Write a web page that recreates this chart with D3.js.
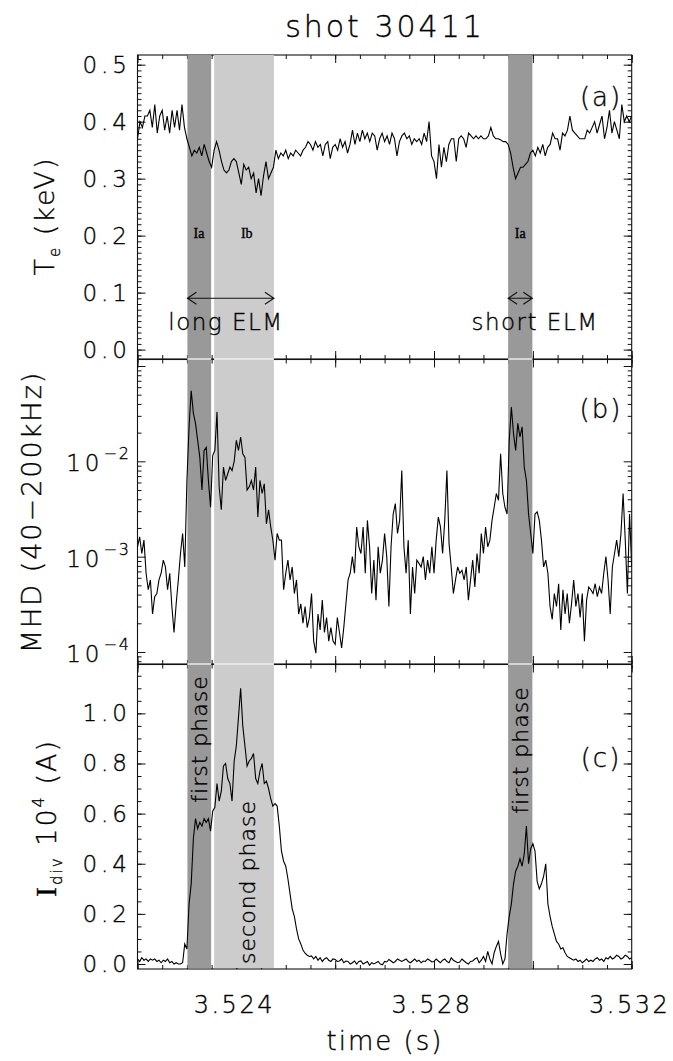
<!DOCTYPE html>
<html><head><meta charset="utf-8">
<script src="https://cdn.jsdelivr.net/npm/d3@7"></script>
<style>
body{margin:0;background:#fff}
svg{display:block}
text{font-family:'DejaVu Sans',sans-serif;font-weight:200;fill:#000;stroke:#000;stroke-width:0.35px}
</style>
</head><body><svg id="chart" width="673" height="1061"></svg>
<script>
// ---------------- data ----------------
const timeRange = [3.522, 3.532];
const xTickLabels = [3.524, 3.528, 3.532];
const teTicks = [0.0, 0.1, 0.2, 0.3, 0.4, 0.5];
const mhdTicks = [1e-4, 1e-3, 1e-2];
const idivTicks = [0.0, 0.2, 0.4, 0.6, 0.8, 1.0];
const darkBands = [[3.52301, 3.52349], [3.52950, 3.52999]];
const lightBands = [[3.52355, 3.52476]];
const bandLabels = ["Ia", "Ib", "Ia"];
const bandLabelTimes = [3.523245, 3.52421, 3.529745];

// Te (keV), sampled uniformly over the time range
const teValues = [
0.37,0.40,0.39,0.41,0.41,0.42,0.39,0.43,0.38,0.41,0.42,0.385,0.41,0.38,0.42,0.39,0.42,0.385,0.43,0.39,0.37,
0.355,0.34,0.35,0.345,0.355,0.34,0.36,0.345,0.33,0.32,
0.35,0.365,0.35,0.33,0.315,0.31,0.315,0.33,0.335,0.33,0.31,0.29,0.325,0.315,0.32,0.30,0.31,0.275,0.30,0.27,0.305,0.33,0.30,0.31,0.32,0.35,
0.335,0.345,0.34,0.35,0.335,0.345,0.34,0.35,0.345,0.34,0.35,0.355,0.365,0.36,0.35,0.365,0.355,0.36,0.34,0.36,0.365,0.335,0.355,0.36,0.35,0.37,0.355,0.365,0.345,0.36,0.385,0.36,0.38,0.365,0.385,0.37,0.38,0.365,0.38,0.375,0.35,0.37,0.38,0.365,
0.375,0.36,0.38,0.37,0.34,0.365,0.375,0.38,0.37,0.375,0.36,0.37,0.365,0.37,0.36,0.38,0.365,0.40,0.34,0.33,0.30,0.36,0.32,0.355,0.33,0.36,0.37,0.37,0.33,0.37,0.375,0.37,0.355,0.38,0.375,0.37,0.375,0.37,0.375,0.37,0.37,0.375,0.39,0.375,0.37,0.37,0.368,0.365,0.365,0.36,
0.345,0.32,0.30,0.31,0.32,0.32,0.325,0.33,0.345,0.35,0.34,0.355,0.345,0.36,0.34,0.355,0.36,0.38,0.37,0.37,0.35,0.38,0.375,0.385,0.41,0.385,0.38,0.375,0.37,0.37,0.37,0.385,0.38,0.39,0.40,0.38,0.395,0.41,0.37,0.39,0.42,0.38,0.40,0.385,0.37,0.43,0.40,0.41,0.40,0.41
];

// MHD amplitude (40-200 kHz), sampled uniformly over the time range
const mhdValues = [
1.27e-3,1.61e-3,1.08e-3,1.49e-3,6.7e-4,4.5e-4,5.7e-4,2.5e-4,3.8e-4,4.1e-4,
5.7e-4,6.7e-4,9.2e-4,7.8e-4,4.5e-4,6.7e-4,3.0e-4,1.6e-4,3.2e-4,5.7e-4,
1.08e-3,1.75e-3,7.8e-4,6.3e-3,2.3e-2,5.5e-2,3.2e-2,2.5e-2,1.66e-2,1.1e-2,
5.0e-3,1.3e-2,1.4e-2,6.3e-3,3.3e-3,1.15e-2,1.3e-2,3.3e-2,5.4e-3,3.1e-3,
8.7e-3,6.3e-3,7.4e-3,8.7e-3,8.0e-3,1.0e-2,1.66e-2,1.3e-2,1.8e-2,1.2e-2,
1.1e-2,5.0e-3,5.4e-3,6.3e-3,5.0e-3,8.7e-3,2.6e-3,6.3e-3,4.6e-3,5.8e-3,
2.2e-3,3.1e-3,2.05e-3,1.49e-3,9.2e-4,1.75e-3,1.49e-3,1.49e-3,4.5e-4,6.7e-4,
9.2e-4,5.7e-4,7.8e-4,4.1e-4,5.7e-4,2.5e-4,3.2e-4,2.0e-4,3.0e-4,1.8e-4,
2.3e-4,4.1e-4,1.3e-4,9.7e-5,2.5e-4,1.7e-4,3.5e-4,1.6e-4,2.3e-4,1.3e-4,
1.8e-4,1.3e-4,1.2e-4,2.3e-4,1.6e-4,1.1e-4,1.8e-4,3.2e-4,5.7e-4,6.7e-4,
1.0e-3,6.7e-4,2.05e-3,1.27e-3,1.08e-3,2.05e-3,6.7e-4,2.4e-3,1.27e-3,4.1e-4,
9.2e-4,3.5e-4,1.27e-3,6.7e-4,9.2e-4,1.75e-3,1.0e-3,3.0e-4,1.27e-3,2.8e-3,
3.6e-3,1.75e-3,2.4e-3,8.0e-3,1.27e-3,6.7e-4,1.49e-3,2.5e-4,7.8e-4,4.1e-4,
9.2e-4,8.5e-4,7.8e-4,1.0e-3,5.7e-4,9.2e-4,6.7e-4,1.27e-3,6.7e-4,1.49e-3,
2.6e-3,2.05e-3,1.08e-3,2.4e-3,8.0e-3,1.37e-3,7.8e-4,4.1e-4,5.7e-4,7.8e-4,
6.7e-4,7.2e-4,5.7e-4,7.8e-4,3.5e-4,5.7e-4,9.2e-4,4.8e-4,1.08e-3,6.7e-4,
1.75e-3,1.08e-3,2.05e-3,1.27e-3,1.49e-3,2.4e-3,3.3e-3,4.6e-3,3.9e-3,1.2e-2,
4.6e-3,3.3e-3,2.8e-3,1.66e-2,3.7e-2,1.95e-2,1.3e-2,2.5e-2,1.8e-2,2.3e-2,
8.7e-3,6.3e-3,2.8e-3,1.75e-3,1.08e-3,2.8e-3,2.95e-3,2.4e-3,1.49e-3,7.8e-4,
9.2e-4,6.7e-4,3.0e-4,2.2e-4,4.1e-4,3.0e-4,5.2e-4,1.7e-4,4.5e-4,2.5e-4,
4.1e-4,2.0e-4,3.2e-4,5.7e-4,3.0e-4,4.1e-4,2.3e-4,4.1e-4,1.3e-4,3.5e-4,
4.8e-4,4.5e-4,4.1e-4,5.2e-4,3.8e-4,4.8e-4,4.1e-4,6.7e-4,1.0e-3,5.7e-4,
2.5e-4,7.8e-4,1.08e-3,1.49e-3,1.0e-3,1.75e-3,4.6e-3,1.49e-3,4.1e-4,2.8e-3,
7.8e-4
];

// I_div (10^4 A), sampled uniformly over the time range
const idivValues = [
0.02,0.01,0.025,0.015,0.02,0.01,0.02,0.015,0.02,0.01,
0.015,0.005,0.015,0.01,0.02,0.005,0.01,0.0,0.005,0.0,
0.0,0.005,0.08,0.06,0.24,0.32,0.50,0.58,0.54,0.565,
0.55,0.58,0.565,0.58,0.53,0.61,0.625,0.72,0.65,0.69,
0.79,0.80,0.74,0.72,0.65,0.81,0.87,0.985,1.10,0.95,
0.87,0.79,0.81,0.82,0.84,0.74,0.72,0.77,0.80,0.72,
0.73,0.70,0.66,0.63,0.64,0.63,0.55,0.45,0.41,0.39,
0.34,0.28,0.22,0.19,0.14,0.10,0.08,0.056,0.043,0.035,
0.03,0.032,0.02,0.03,0.015,0.025,0.01,0.02,0.025,0.015,
0.01,0.02,0.018,0.01,0.012,0.02,0.005,0.012,0.01,0.0,
0.005,0.012,0.0,0.01,0.012,0.0,0.005,0.01,-0.005,0.005,
0.0,0.005,0.01,0.0,-0.003,0.01,0.008,0.018,0.012,0.005,
0.01,0.02,0.015,0.01,0.015,0.02,0.01,0.005,0.012,0.02,
0.01,0.015,0.005,0.012,0.01,0.02,0.015,0.008,0.01,0.02,
0.012,0.005,0.015,0.02,0.01,0.005,0.025,0.015,0.01,0.005,
0.008,0.02,0.012,0.005,0.0,0.01,0.012,0.02,0.025,0.005,
0.015,0.03,0.01,0.05,0.02,0.0,0.045,0.07,0.09,0.04,
0.0,0.02,0.12,0.19,0.24,0.32,0.37,0.39,0.42,0.39,
0.44,0.55,0.40,0.46,0.48,0.45,0.33,0.30,0.32,0.35,
0.40,0.24,0.19,0.15,0.12,0.09,0.08,0.06,0.065,0.045,
0.03,0.025,0.02,0.015,0.02,0.01,0.015,0.005,0.012,0.02,
0.01,0.015,0.01,0.02,0.025,0.015,0.02,0.01,0.025,0.02,
0.03,0.02,0.025,0.035,0.03,0.02,0.025,0.035,0.03,0.02,
0.025
];

// ---------------- layout ----------------
const svg = d3.select("#chart");
const L = 137.5, R = 631.7;
const panels = {a:[55,359], b:[359.5,664], c:[664.5,969]};

const x = d3.scaleLinear().domain(timeRange).range([L, R]);
const ya = d3.scaleLinear().domain([-0.0165, 0.517]).range([panels.a[1], panels.a[0]]);
const yb = d3.scaleLog().domain([7.48e-5, 0.117]).range([panels.b[1], panels.b[0]]);
const yc = d3.scaleLinear().domain([-0.02, 1.195]).range([panels.c[1], panels.c[0]]);

const sampleTimes = arr => arr.map((_, i) => timeRange[0] + (timeRange[1]-timeRange[0]) * i / (arr.length - 1));

// clip paths
const defs = svg.append("defs");
Object.entries(panels).forEach(([k, [t, b]]) => {
  defs.append("clipPath").attr("id", "clip-" + k)
    .append("rect").attr("x", L).attr("y", t).attr("width", R - L).attr("height", b - t);
});

// ---------------- frames and ticks ----------------
const gAx = svg.append("g");
function frame(top, bot) {
  gAx.append("rect").attr("x", L).attr("y", top).attr("width", R - L).attr("height", bot - top)
    .attr("fill", "none").attr("stroke", "#111").attr("stroke-width", 1.1);
}
function xTicks(top, bot) {
  const minor = d3.range(timeRange[0], timeRange[1] + 1e-7, 0.0005);
  const major = d3.range(timeRange[0], timeRange[1] + 1e-7, 0.002);
  [[top, 1], [bot, -1]].forEach(([yy, dir]) => {
    gAx.append("g").attr("transform", `translate(0,${yy})`)
      .call(dir > 0 ? d3.axisTop(x).tickValues(minor).tickSize(-4).tickFormat("")
                    : d3.axisBottom(x).tickValues(minor).tickSize(-4).tickFormat(""))
      .call(g => g.select(".domain").remove());
    gAx.append("g").attr("transform", `translate(0,${yy})`)
      .call(dir > 0 ? d3.axisTop(x).tickValues(major).tickSize(-8).tickFormat("")
                    : d3.axisBottom(x).tickValues(major).tickSize(-8).tickFormat(""))
      .call(g => g.select(".domain").remove());
  });
}
function yTicks(scale, minor, major) {
  [[L, d3.axisLeft], [R, d3.axisRight]].forEach(([xx, ax]) => {
    gAx.append("g").attr("transform", `translate(${xx},0)`)
      .call(ax(scale).tickValues(minor).tickSize(-4).tickFormat(""))
      .call(g => g.select(".domain").remove());
    gAx.append("g").attr("transform", `translate(${xx},0)`)
      .call(ax(scale).tickValues(major).tickSize(-8).tickFormat(""))
      .call(g => g.select(".domain").remove());
  });
}
frame(...panels.a); frame(...panels.b); frame(...panels.c);
xTicks(...panels.a); xTicks(...panels.b); xTicks(...panels.c);
yTicks(ya, d3.range(-0.01, 0.515, 0.01), teTicks);
const logMinor = [];
[1e-5, 1e-4, 1e-3, 1e-2, 1e-1].forEach(d => { for (let m = 2; m <= 9; m++) { const v = m * d; if (v > yb.domain()[0] && v < yb.domain()[1]) logMinor.push(v); } });
yTicks(yb, logMinor, mhdTicks.concat([1e-1]).filter(v => v < yb.domain()[1]));
yTicks(yc, d3.range(0, 1.19, 0.05), idivTicks);
gAx.selectAll(".tick line").attr("stroke", "#111").attr("stroke-width", 1);

// ---------------- shaded bands ----------------
const gBand = svg.append("g");
gBand.selectAll("rect.dark").data(darkBands).join("rect")
  .attr("x", d => x(d[0])).attr("width", d => x(d[1]) - x(d[0]))
  .attr("y", panels.a[0]).attr("height", panels.c[1] - panels.a[0] - 1)
  .attr("fill", "#999999");
gBand.selectAll("rect.light").data(lightBands).join("rect")
  .attr("x", d => x(d[0])).attr("width", d => x(d[1]) - x(d[0]))
  .attr("y", panels.a[0]).attr("height", panels.c[1] - panels.a[0] - 1)
  .attr("fill", "#cccccc");
// white seams at panel boundaries inside the bands
[panels.a[1], panels.b[1]].forEach(yy => {
  darkBands.concat(lightBands).forEach(d => {
    gBand.append("line").attr("x1", x(d[0])).attr("x2", x(d[1])).attr("y1", yy).attr("y2", yy)
      .attr("stroke", "#fff").attr("stroke-width", 1.2);
  });
});

// ---------------- data lines ----------------
const gData = svg.append("g");
function drawLine(values, yScale, clip) {
  const t = sampleTimes(values);
  gData.append("path").datum(values)
    .attr("clip-path", `url(#clip-${clip})`)
    .attr("fill", "none").attr("stroke", "#000").attr("stroke-width", 1.1)
    .attr("stroke-linejoin", "miter")
    .attr("d", d3.line().x((d, i) => x(t[i])).y(d => yScale(d)));
}
drawLine(teValues, ya, "a");
drawLine(mhdValues, yb, "b");
drawLine(idivValues, yc, "c");

// ---------------- text ----------------
const gT = svg.append("g");
gT.append("text").attr("x", 385).attr("y", 37).attr("text-anchor", "middle")
  .attr("font-size", 30).attr("letter-spacing", 3).text("shot 30411");

// y tick labels
const fmt1 = d3.format(".1f");
gT.selectAll("text.ta").data(teTicks).join("text")
  .attr("x", 131).attr("y", d => ya(d) + 8).attr("text-anchor", "end")
  .attr("font-size", 23).attr("letter-spacing", 4).text(d => fmt1(d));
gT.selectAll("text.tc").data(idivTicks).join("text")
  .attr("x", 131).attr("y", d => yc(d) + 8).attr("text-anchor", "end")
  .attr("font-size", 23).attr("letter-spacing", 4).text(d => fmt1(d));
mhdTicks.forEach(v => {
  const t = gT.append("text").attr("x", 131).attr("y", yb(v) + 10).attr("text-anchor", "end")
    .attr("font-size", 23).attr("letter-spacing", 4);
  t.append("tspan").text("10");
  t.append("tspan").attr("dy", -12).attr("font-size", 16).attr("letter-spacing", 2)
    .text("\u2212" + Math.round(-Math.log10(v)));
});

// x tick labels
gT.selectAll("text.xt").data(xTickLabels).join("text")
  .attr("x", d => x(d) - 2).attr("y", 1013).attr("text-anchor", "middle")
  .attr("font-size", 24).attr("letter-spacing", 2.5).text(d => d3.format(".3f")(d));
gT.append("text").attr("x", 385).attr("y", 1050).attr("text-anchor", "middle")
  .attr("font-size", 26).attr("letter-spacing", 2).text("time (s)");

// y axis titles
const ta = gT.append("text").attr("transform", "translate(54,216) rotate(-90)")
  .attr("text-anchor", "middle").attr("font-size", 27).attr("letter-spacing", 2);
ta.append("tspan").text("T");
ta.append("tspan").attr("dy", 6).attr("font-size", 15).text("e");
ta.append("tspan").attr("dy", -6).text(" (keV)");

gT.append("text").attr("transform", "translate(41,512) rotate(-90)")
  .attr("text-anchor", "middle").attr("font-size", 27).attr("letter-spacing", 2)
  .text("MHD (40\u2212200kHz)");

const tc = gT.append("text").attr("transform", "translate(56,818) rotate(-90)")
  .attr("text-anchor", "middle").attr("font-size", 27).attr("letter-spacing", 2);
tc.append("tspan").attr("font-family", "'Liberation Serif',serif").attr("font-weight", 400).attr("font-size", 30).text("I");
tc.append("tspan").attr("dy", 6).attr("font-size", 15).text("div");
tc.append("tspan").attr("dy", -6).text(" 10");
tc.append("tspan").attr("dy", -12).attr("font-size", 16).text("4");
tc.append("tspan").attr("dy", 12).text(" (A)");

// panel letters
[["(a)", 106], ["(b)", 418], ["(c)", 767]].forEach(([s, yy]) => {
  gT.append("text").attr("x", 601).attr("y", yy).attr("text-anchor", "middle")
    .attr("font-size", 26).attr("letter-spacing", 2).text(s);
});

// band labels in panel (a)
gT.selectAll("text.bl").data(bandLabels).join("text")
  .attr("x", (d, i) => x(bandLabelTimes[i])).attr("y", 238).attr("text-anchor", "middle")
  .style("font-family", "'Liberation Serif',serif").style("font-weight", 400)
  .attr("font-size", 14).text(d => d);

// ELM arrows
function dblArrow(t0, t1, yy) {
  const x0 = x(t0), x1 = x(t1), h = 6, w = 9;
  gT.append("path").attr("fill", "none").attr("stroke", "#111").attr("stroke-width", 1.1)
    .attr("d", `M${x0},${yy}H${x1}M${x0 + w},${yy - h}L${x0},${yy}L${x0 + w},${yy + h}M${x1 - w},${yy - h}L${x1},${yy}L${x1 - w},${yy + h}`);
}
dblArrow(darkBands[0][0], lightBands[0][1], ya(0.09));
dblArrow(darkBands[1][0], darkBands[1][1], ya(0.09));
gT.append("text").attr("x", 226).attr("y", 330).attr("text-anchor", "middle")
  .attr("font-size", 23).attr("letter-spacing", 1.5).text("long ELM");
gT.append("text").attr("x", 535).attr("y", 330).attr("text-anchor", "middle")
  .attr("font-size", 23).attr("letter-spacing", 1.5).text("short ELM");

// phase labels in panel (c)
[["first phase", (darkBands[0][0] + darkBands[0][1]) / 2, 739],
 ["second phase", 3.52422, 882],
 ["first phase", (darkBands[1][0] + darkBands[1][1]) / 2, 750]].forEach(([s, t, yy]) => {
  gT.append("text").attr("transform", `translate(${x(t) + 8},${yy}) rotate(-90)`)
    .attr("text-anchor", "middle").attr("font-size", 22).attr("letter-spacing", 1).text(s);
});
</script>
</body></html>
